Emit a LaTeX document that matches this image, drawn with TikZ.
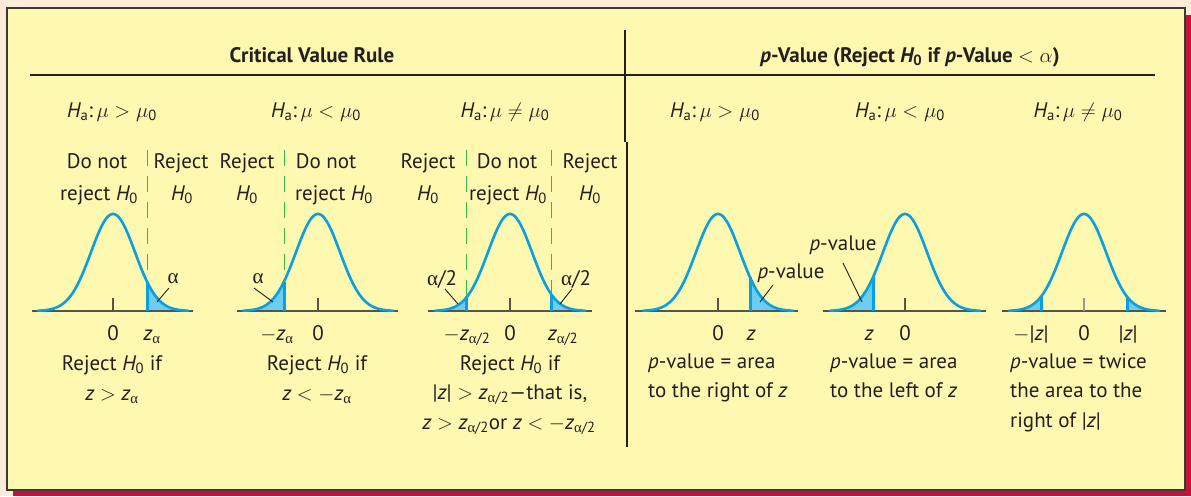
\documentclass[tikz,border=0pt]{standalone}
\usepackage{fontspec}
\setmainfont{PT Sans}
\newfontfamily\grk{Liberation Serif}
\definecolor{bgbeige}{HTML}{FCEBD6}
\definecolor{shadowred}{HTML}{C8103A}
\definecolor{panel}{HTML}{FEF8B0}
\definecolor{frame}{HTML}{3A3A36}
\definecolor{txt}{HTML}{231F20}
\definecolor{cblue}{HTML}{0AA0E0}
\definecolor{sblue}{HTML}{6CCCF2}
\definecolor{gdashc}{HTML}{3DB54A}
\definecolor{axisc}{HTML}{55554A}
\tikzset{
  declare function={g(\t)=311-97*exp(-(\t)*(\t)/968);},
  lab/.style={font=\fontsize{21}{25}\selectfont, text=txt, inner sep=0pt, anchor=base},
  ttl/.style={lab, font=\bfseries\fontsize{21}{25}\selectfont},
  curvestyle/.style={draw=cblue, line width=2.6pt, line cap=round},
  shadestyle/.style={fill=sblue},
  edgestyle/.style={draw=cblue, line width=3pt},
  axisstyle/.style={draw=axisc, line width=1.4pt},
  tickstyle/.style={draw=axisc, line width=1.2pt},
  gdash/.style={draw=gdashc, line width=1pt, dash pattern=on 16pt off 10pt},
  leader/.style={draw=txt, line width=0.9pt},
  rule/.style={draw=txt, line width=1.2pt}
}
\newcommand{\Hz}{{\itshape H}\textsubscript{0}}
\newcommand{\Ha}{{\itshape H}\textsubscript{a}:\,}
\newcommand{\zi}{{\itshape z}}
\newcommand{\alp}{{\grk α}}
\begin{document}
\begin{tikzpicture}[x=1pt,y=-1pt]
\useasboundingbox (0,0) rectangle (1191,496);
% background, shadow, panel
\fill[bgbeige] (0,0) rectangle (1191,496);
\fill[shadowred] (13,15) rectangle (1191,496);
\filldraw[fill=panel, draw=frame, line width=2pt] (7,8) rectangle (1185,490);

% titles and rules
\node[ttl] (t1) at (312,62) {Critical Value Rule};
\node[ttl] (t2) at (910,62) {{\itshape p}-Value (Reject \Hz\ if {\itshape p}-Value $<\alpha$)};
\coordinate (hl) at (30,75); \coordinate (hr) at (1155,75);
\draw[rule] (hl) -- (hr);
\coordinate (v1a) at (625,30); \coordinate (v1b) at (625,142);
\coordinate (v2a) at (627,142); \coordinate (v2b) at (627,447);
\draw[rule] (v1a) -- (v1b);
\draw[rule] (v2a) -- (v2b);

% Ha labels
\node[lab] (ha1) at (112,117) {\Ha$\mu > \mu$\textsubscript{0}};
\node[lab] (ha2) at (316,117) {\Ha$\mu < \mu$\textsubscript{0}};
\node[lab] (ha3) at (505,117) {\Ha$\mu \neq \mu$\textsubscript{0}};
\node[lab] (ha4) at (715,117) {\Ha$\mu > \mu$\textsubscript{0}};
\node[lab] (ha5) at (900,117) {\Ha$\mu < \mu$\textsubscript{0}};
\node[lab] (ha6) at (1078,117) {\Ha$\mu \neq \mu$\textsubscript{0}};

% region labels (critical value rule)
\node[lab] (r1a) at (97,168) {Do not};
\node[lab] (r1b) at (99,200) {reject \Hz};
\node[lab] (r1c) at (181,168) {Reject};
\node[lab] (r1d) at (182,200) {\Hz};
\node[lab] (r2a) at (247,168) {Reject};
\node[lab] (r2b) at (247,200) {\Hz};
\node[lab] (r2c) at (326,168) {Do not};
\node[lab] (r2d) at (334,200) {reject \Hz};
\node[lab] (r3a) at (428,168) {Reject};
\node[lab] (r3b) at (428,200) {\Hz};
\node[lab] (r3c) at (507,168) {Do not};
\node[lab] (r3d) at (508,200) {reject \Hz};
\node[lab] (r3e) at (590,168) {Reject};
\node[lab] (r3f) at (590,200) {\Hz};

% ---------- curve 1 (right tail) ----------
\fill[shadestyle] (147,311) -- plot[domain=34:75,samples=40] ({113+\x},{g(\x)}) -- (188,311) -- cycle;
\draw[axisstyle] (32,311) -- (193,311);
\draw[tickstyle] (113,298) -- (113,311);
\draw[curvestyle] plot[domain=-75:75,samples=120] ({113+\x},{g(\x)});
\draw[edgestyle] (147,311) -- (147,{g(34)});
\draw[gdash] (147,150) -- (147,{g(34)});
\node[lab] (a1) at (173,283) {\alp};
\coordinate (a1s) at (169,288); \coordinate (a1e) at (157,302);
\draw[leader] (a1s) -- (a1e);
\node[lab] (x1a) at (113,340) {0};
\node[lab] (x1b) at (152,340) {\zi\textsubscript{\alp}};
\node[lab] (b1a) at (112,370) {Reject \Hz\ if};
\node[lab] (b1b) at (112,400) {\zi\ $>$ \zi\textsubscript{\alp}};

% ---------- curve 2 (left tail) ----------
\fill[shadestyle] (284,311) -- plot[domain=-34:-75,samples=40] ({318+\x},{g(\x)}) -- (243,311) -- cycle;
\draw[axisstyle] (237,311) -- (398,311);
\draw[tickstyle] (318,298) -- (318,311);
\draw[curvestyle] plot[domain=-75:75,samples=120] ({318+\x},{g(\x)});
\draw[edgestyle] (284,311) -- (284,{g(34)});
\draw[gdash] (284,150) -- (284,{g(34)});
\node[lab] (a2) at (258,283) {\alp};
\coordinate (a2s) at (254,288); \coordinate (a2e) at (273,302);
\draw[leader] (a2s) -- (a2e);
\node[lab] (x2a) at (277,340) {$-$\zi\textsubscript{\alp}};
\node[lab] (x2b) at (318,340) {0};
\node[lab] (b2a) at (317,370) {Reject \Hz\ if};
\node[lab] (b2b) at (317,400) {\zi\ $<$ $-$\zi\textsubscript{\alp}};

% ---------- curve 3 (two tails) ----------
\fill[shadestyle] (466,311) -- plot[domain=-44:-75,samples=40] ({510+\x},{g(\x)}) -- (435,311) -- cycle;
\fill[shadestyle] (551,311) -- plot[domain=41:75,samples=40] ({510+\x},{g(\x)}) -- (585,311) -- cycle;
\draw[axisstyle] (428,311) -- (592,311);
\draw[tickstyle] (510,298) -- (510,311);
\draw[curvestyle] plot[domain=-75:75,samples=120] ({510+\x},{g(\x)});
\draw[edgestyle] (466,311) -- (466,{g(44)});
\draw[edgestyle] (551,311) -- (551,{g(41)});
\draw[gdash] (466,150) -- (466,{g(44)});
\draw[gdash] (551,150) -- (551,{g(41)});
\node[lab] (a3l) at (442,285) {\alp/2};
\node[lab] (a3r) at (576,285) {\alp/2};
\coordinate (a3ls) at (445,289); \coordinate (a3le) at (458,304);
\coordinate (a3rs) at (572,289); \coordinate (a3re) at (560,304);
\draw[leader] (a3ls) -- (a3le);
\draw[leader] (a3rs) -- (a3re);
\node[lab] (x3a) at (467,340) {$-$\zi\textsubscript{\alp/2}};
\node[lab] (x3b) at (510,340) {0};
\node[lab] (x3c) at (563,340) {\zi\textsubscript{\alp/2}};
\node[lab] (b3a) at (510,370) {Reject \Hz\ if};
\node[lab] (b3b) at (510,399) {|\zi| $>$ \zi\textsubscript{\alp/2}---that is,};
\node[lab] (b3c) at (509,429) {\zi\ $>$ \zi\textsubscript{\alp/2}or \zi\ $<$ $-$\zi\textsubscript{\alp/2}};

% ---------- curve 4 (p-value right) ----------
\fill[shadestyle] (750,311) -- plot[domain=32:75,samples=40] ({718+\x},{g(\x)}) -- (793,311) -- cycle;
\draw[axisstyle] (635,311) -- (798,311);
\draw[tickstyle] (718,298) -- (718,311);
\draw[curvestyle] plot[domain=-75:75,samples=120] ({718+\x},{g(\x)});
\draw[edgestyle] (750,311) -- (750,{g(32)});
\node[lab] (p4) at (791,278) {{\itshape p}-value};
\coordinate (p4s) at (773,285); \coordinate (p4e) at (760,302);
\draw[leader] (p4s) -- (p4e);
\node[lab] (x4a) at (718,340) {0};
\node[lab] (x4b) at (751,340) {\zi};
\node[lab, anchor=base west] (b4a) at (648,368) {{\itshape p}-value = area};
\node[lab, anchor=base west] (b4b) at (648,397) {to the right of \zi};

% ---------- curve 5 (p-value left) ----------
\fill[shadestyle] (873,311) -- plot[domain=-32:-75,samples=40] ({905+\x},{g(\x)}) -- (830,311) -- cycle;
\draw[axisstyle] (823,311) -- (986,311);
\draw[tickstyle] (905,298) -- (905,311);
\draw[curvestyle] plot[domain=-75:75,samples=120] ({905+\x},{g(\x)});
\draw[edgestyle] (873,311) -- (873,{g(32)});
\node[lab] (p5) at (843,250) {{\itshape p}-value};
\coordinate (p5s) at (843,263); \coordinate (p5e) at (862,302);
\draw[leader] (p5s) -- (p5e);
\node[lab] (x5a) at (869,340) {\zi};
\node[lab] (x5b) at (905,340) {0};
\node[lab, anchor=base west] (b5a) at (830,368) {{\itshape p}-value = area};
\node[lab, anchor=base west] (b5b) at (830,397) {to the left of \zi};

% ---------- curve 6 (p-value two tails) ----------
\fill[shadestyle] (1041,311) -- plot[domain=-43:-75,samples=40] ({1084+\x},{g(\x)}) -- (1009,311) -- cycle;
\fill[shadestyle] (1127,311) -- plot[domain=43:75,samples=40] ({1084+\x},{g(\x)}) -- (1159,311) -- cycle;
\draw[axisstyle] (1002,311) -- (1166,311);
\draw[tickstyle, draw=axisc!60] (1084,298) -- (1084,311);
\draw[curvestyle] plot[domain=-75:75,samples=120] ({1084+\x},{g(\x)});
\draw[edgestyle] (1041,311) -- (1041,{g(43)});
\draw[edgestyle] (1127,311) -- (1127,{g(43)});
\node[lab] (x6a) at (1031,340) {$-$|\zi|};
\node[lab] (x6b) at (1084,340) {0};
\node[lab] (x6c) at (1128,340) {|\zi|};
\node[lab, anchor=base west] (b6a) at (1010,368) {{\itshape p}-value = twice};
\node[lab, anchor=base west] (b6b) at (1010,397) {the area to the};
\node[lab, anchor=base west] (b6c) at (1010,427) {right of |\zi|};
\end{tikzpicture}
\end{document}
